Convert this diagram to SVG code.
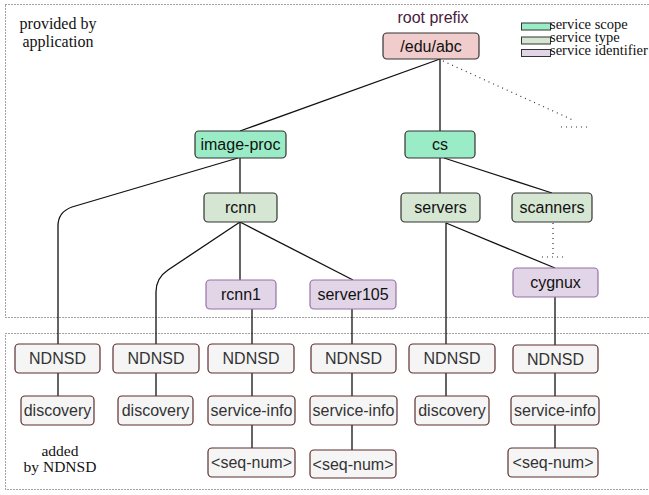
<svg xmlns="http://www.w3.org/2000/svg" width="649" height="495" viewBox="0 0 649 495">
<style>
.region{fill:none;stroke:#444;stroke-width:1;stroke-dasharray:1 2}
.n rect{stroke-width:1.2}
.root rect{fill:#f0cccc;stroke:#333}
.scope rect{fill:#99ecc6;stroke:#333}
.type rect{fill:#d5e6d2;stroke:#333}
.ident rect{fill:#e1d5e7;stroke:#9673a6}
.nd rect{fill:#f5f5f5;stroke:#5e2e2e}
.n text{font-family:"Liberation Sans",Arial,sans-serif;font-size:16px;text-anchor:middle;dominant-baseline:central;fill:#111}
.nd text{fill:#333}
.lbl{font-family:"Liberation Serif","Times New Roman",serif;font-size:16px;fill:#111}
.leg{font-family:"Liberation Serif","Times New Roman",serif;font-size:14.5px;fill:#111}
.edge{fill:none;stroke:#111;stroke-width:1.3}
.dot{fill:none;stroke:#333;stroke-width:1.2;stroke-dasharray:1 4}
.sw{stroke:#333;stroke-width:1}
</style>
<rect class="region" x="5.5" y="4.5" width="660" height="313"/>
<rect class="region" x="5.5" y="333.5" width="660" height="156"/>
<text class="lbl" x="58" y="29" text-anchor="middle">provided by</text>
<text class="lbl" x="58" y="47" text-anchor="middle">application</text>
<text class="lbl" x="60" y="456" text-anchor="middle" style="font-size:15.5px">added</text>
<text class="lbl" x="60" y="472" text-anchor="middle" style="font-size:15.5px">by NDNSD</text>
<text x="433" y="23" text-anchor="middle" style="font-family:'Liberation Sans',Arial,sans-serif;font-size:16px;fill:#4a1b3e">root prefix</text>
<g id="legend">
<rect class="sw" x="521.5" y="23" width="29" height="7" fill="#99ecc6"/>
<rect class="sw" x="521.5" y="37" width="29" height="7" fill="#d5e6d2"/>
<rect class="sw" x="521.5" y="49.5" width="29" height="7" fill="#e1d5e7"/>
<text class="leg" x="550" y="29">service scope</text>
<text class="leg" x="550" y="42">service type</text>
<text class="leg" x="550" y="55">service identifier</text>
</g>
<g id="connectors">
<path class="edge" d="M440 59 L240 131"/>
<path class="edge" d="M440 59 L440 131"/>
<path class="dot" d="M443 61 L575 121"/>
<path class="dot" d="M561 127 L590 127"/>
<path class="edge" d="M240 158 L240 193"/>
<path class="edge" d="M238 158 L72 207 Q58 212 58 226 L58 344"/>
<path class="edge" d="M240 222 L240 280"/>
<path class="edge" d="M240 222 L353 280"/>
<path class="edge" d="M240 222 L168 270 Q156 278 156 292 L156 344"/>
<path class="edge" d="M252 309 L252 344"/>
<path class="edge" d="M352 309 L352 344"/>
<path class="edge" d="M440 158 L440 193"/>
<path class="edge" d="M444 158 L552 193"/>
<path class="edge" d="M446 223 L555 268"/>
<path class="edge" d="M446 223 L446 344"/>
<path class="dot" d="M553 223 L553 257"/>
<path class="dot" d="M542 257 L565 257"/>
<path class="edge" d="M555 297 L555 345"/>
<path class="edge" d="M58 373 L58 396"/>
<path class="edge" d="M156 373 L156 396"/>
<path class="edge" d="M252 373 L252 396"/>
<path class="edge" d="M252 425 L252 448"/>
<path class="edge" d="M352 373 L352 396"/>
<path class="edge" d="M352 425 L352 450"/>
<path class="edge" d="M446 373 L446 396"/>
<path class="edge" d="M555 373 L555 396"/>
<path class="edge" d="M555 425 L555 448"/>
</g>
<g id="root" class="n root"><rect x="383" y="33" width="96" height="26" rx="4"/><text x="431" y="46">/edu/abc</text></g>
<g id="image-proc" class="n scope"><rect x="195" y="131" width="91" height="27" rx="4"/><text x="240.5" y="144.5">image-proc</text></g>
<g id="cs" class="n scope"><rect x="405" y="131" width="70" height="27" rx="4"/><text x="440" y="144.5">cs</text></g>
<g id="rcnn" class="n type"><rect x="204" y="193" width="73" height="29" rx="4"/><text x="240.5" y="207.5">rcnn</text></g>
<g id="servers" class="n type"><rect x="401" y="193" width="79" height="29" rx="4"/><text x="440.5" y="207.5">servers</text></g>
<g id="scanners" class="n type"><rect x="512" y="193" width="80" height="29" rx="4"/><text x="552" y="207.5">scanners</text></g>
<g id="rcnn1" class="n ident"><rect x="206" y="280" width="70" height="29" rx="4"/><text x="241" y="294.5">rcnn1</text></g>
<g id="server105" class="n ident"><rect x="310" y="280" width="86" height="29" rx="4"/><text x="353" y="294.5">server105</text></g>
<g id="cygnux" class="n ident"><rect x="513" y="268" width="85" height="29" rx="4"/><text x="555.5" y="282.5">cygnux</text></g>
<g id="ndnsd1" class="n nd"><rect x="15" y="344" width="85" height="29" rx="4"/><text x="57.5" y="358.5">NDNSD</text></g>
<g id="disc1" class="n nd"><rect x="21" y="396" width="73" height="29" rx="4"/><text x="57.5" y="410.5">discovery</text></g>
<g id="ndnsd2" class="n nd"><rect x="113" y="344" width="86" height="29" rx="4"/><text x="156" y="358.5">NDNSD</text></g>
<g id="disc2" class="n nd"><rect x="118" y="396" width="75" height="29" rx="4"/><text x="155.5" y="410.5">discovery</text></g>
<g id="ndnsd3" class="n nd"><rect x="208" y="344" width="86" height="29" rx="4"/><text x="251" y="358.5">NDNSD</text></g>
<g id="info3" class="n nd"><rect x="208" y="396" width="87" height="29" rx="4"/><text x="251.5" y="410.5">service-info</text></g>
<g id="seq3" class="n nd"><rect x="208" y="448" width="87" height="29" rx="4"/><text x="251.5" y="462.5">&lt;seq-num&gt;</text></g>
<g id="ndnsd4" class="n nd"><rect x="311" y="344" width="85" height="29" rx="4"/><text x="353.5" y="358.5">NDNSD</text></g>
<g id="info4" class="n nd"><rect x="310" y="396" width="87" height="29" rx="4"/><text x="353.5" y="410.5">service-info</text></g>
<g id="seq4" class="n nd"><rect x="310" y="450" width="86" height="28" rx="4"/><text x="353" y="464">&lt;seq-num&gt;</text></g>
<g id="ndnsd5" class="n nd"><rect x="409" y="344" width="86" height="29" rx="4"/><text x="452" y="358.5">NDNSD</text></g>
<g id="disc5" class="n nd"><rect x="415" y="396" width="74" height="29" rx="4"/><text x="452" y="410.5">discovery</text></g>
<g id="ndnsd6" class="n nd"><rect x="513" y="345" width="85" height="28" rx="4"/><text x="555.5" y="359">NDNSD</text></g>
<g id="info6" class="n nd"><rect x="511" y="396" width="88" height="29" rx="4"/><text x="555" y="410.5">service-info</text></g>
<g id="seq6" class="n nd"><rect x="508" y="448" width="90" height="29" rx="4"/><text x="553" y="462.5">&lt;seq-num&gt;</text></g>
</svg>
